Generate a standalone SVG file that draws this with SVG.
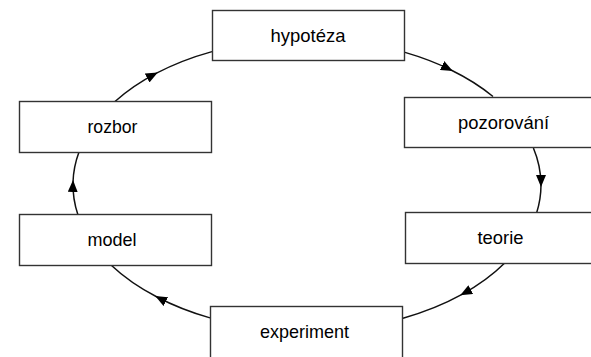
<svg xmlns="http://www.w3.org/2000/svg" width="591" height="357" viewBox="0 0 591 357">
<style>
.box{fill:#fff;stroke:#333;stroke-width:1.4}
.lbl{font-family:"Liberation Sans",Arial,sans-serif;font-size:19px;fill:#000;text-anchor:middle}
.conn{fill:none;stroke:#111;stroke-width:1.5;marker-mid:url(#arr)}
</style>
<defs>
<marker id="arr" markerUnits="userSpaceOnUse" markerWidth="12" markerHeight="10" refX="10" refY="5" orient="auto">
<path d="M0,0 L12,5 L0,10 Z" fill="#000"/>
</marker>
</defs>
<rect width="591" height="357" fill="#fff"/>
<g id="connectors">
<path class="conn" d="M115,101.5 A234,146 0 0 1 156,73.4 A234,146 0 0 1 212,51.6"/>
<path class="conn" d="M405,52.4 A234,146 0 0 1 451,70 A234,146 0 0 1 493,96.5"/>
<path class="conn" d="M533.4,148 A234,146 0 0 1 541,185 A234,146 0 0 1 536.6,213"/>
<path class="conn" d="M505,262.8 A234,146 0 0 1 462,294.4 A234,146 0 0 1 403,318.2"/>
<path class="conn" d="M210,317.9 A234,146 0 0 1 157,297 A234,146 0 0 1 111,265"/>
<path class="conn" d="M78,215 A234,146 0 0 1 73,182 A234,146 0 0 1 79,152"/>
</g>
<g id="hypoteza"><rect class="box" x="212.5" y="10.5" width="192" height="50"/><text class="lbl" x="308" y="42" textLength="75" lengthAdjust="spacingAndGlyphs">hypotéza</text></g>
<g id="pozorovani"><rect class="box" x="404.5" y="97.5" width="192" height="50"/><text class="lbl" x="503.5" y="129" textLength="91" lengthAdjust="spacingAndGlyphs">pozorování</text></g>
<g id="teorie"><rect class="box" x="405.5" y="212.5" width="192" height="51"/><text class="lbl" x="500.5" y="244" textLength="46" lengthAdjust="spacingAndGlyphs">teorie</text></g>
<g id="experiment"><rect class="box" x="210.5" y="306.5" width="192" height="52"/><text class="lbl" x="304.5" y="338" textLength="89" lengthAdjust="spacingAndGlyphs">experiment</text></g>
<g id="model"><rect class="box" x="19.5" y="214.5" width="192" height="51"/><text class="lbl" x="112" y="246" textLength="49" lengthAdjust="spacingAndGlyphs">model</text></g>
<g id="rozbor"><rect class="box" x="19.5" y="101.5" width="192" height="51"/><text class="lbl" x="112.5" y="133" textLength="50" lengthAdjust="spacingAndGlyphs">rozbor</text></g>
</svg>
